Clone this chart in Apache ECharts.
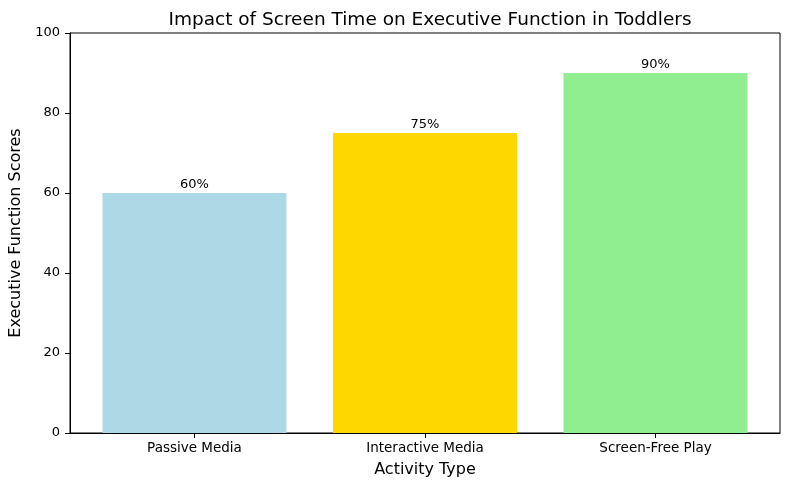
<!DOCTYPE html>
<html>
<head>
<meta charset="utf-8">
<script src="https://cdn.jsdelivr.net/npm/echarts@6/dist/echarts.min.js"></script>
<style>
  html, body { margin: 0; padding: 0; background: #fff; }
  #chart { width: 790px; height: 490px; }
</style>
</head>
<body>
<div id="chart"></div>
<script>
var categories = ['Passive Media', 'Interactive Media', 'Screen-Free Play'];
var scores = [60, 75, 90];
var barColors = ['#ADD8E6', '#FFD700', '#90EE90'];
var yTicks = [0, 20, 40, 60, 80, 100];

var myChart = echarts.init(document.getElementById('chart'));
var font = 'DejaVu Sans';

// bars sit on a numeric x axis so the padding matches the original (-0.54 .. 2.54)
var barData = [];
for (var i = 0; i < categories.length; i++) {
	barData.push({
		value: [i, scores[i]],
		itemStyle: { color: barColors[i] }
	});
}

var option = {
	animation: false,
	backgroundColor: '#fff',
	title: {
		text: 'Impact of Screen Time on Executive Function in Toddlers',
		left: 425,
		textAlign: 'center',
		top: 6,
		textStyle: { fontFamily: font, fontSize: 18.5, fontWeight: 'normal', color: '#000' }
	},
	grid: {
		left: 70,
		right: 10,
		top: 33,
		bottom: 57,
		outerBoundsMode: 'none',
		containLabel: false,
		show: true,
		borderColor: '#000',
		borderWidth: 1
	},
	xAxis: {
		type: 'value',
		min: -0.54,
		max: 2.54,
		name: 'Activity Type',
		nameLocation: 'middle',
		nameGap: 29,
		nameTextStyle: { fontFamily: font, fontSize: 16, color: '#000' },
		axisLine: { show: true, onZero: false, lineStyle: { color: '#000', width: 1 } },
		axisTick: {
			show: true,
			inside: false,
			length: 5,
			customValues: [0, 1, 2],
			lineStyle: { color: '#000' }
		},
		axisLabel: {
			customValues: [0, 1, 2],
			margin: 8,
			fontFamily: font,
			fontSize: 13.5,
			color: '#000',
			formatter: function (v) {
				return categories[Math.round(v)];
			}
		},
		splitLine: { show: false }
	},
	yAxis: {
		type: 'value',
		min: yTicks[0],
		max: yTicks[yTicks.length - 1],
		interval: 20,
		name: 'Executive Function Scores',
		nameLocation: 'middle',
		nameGap: 44,
		nameTextStyle: { fontFamily: font, fontSize: 16, color: '#000' },
		axisLine: { show: true, onZero: false, lineStyle: { color: '#000', width: 1 } },
		axisTick: { show: true, inside: false, length: 5, lineStyle: { color: '#000' } },
		axisLabel: { margin: 10, fontFamily: font, fontSize: 13, color: '#000' },
		splitLine: { show: false }
	},
	series: [{
		type: 'bar',
		data: barData,
		barWidth: 184,
		label: {
			show: true,
			position: 'top',
			distance: 2,
			fontFamily: font,
			fontSize: 13,
			color: '#000',
			formatter: function (p) {
				return p.value[1] + '%';
			}
		}
	}]
};

myChart.setOption(option);
</script>
</body>
</html>
